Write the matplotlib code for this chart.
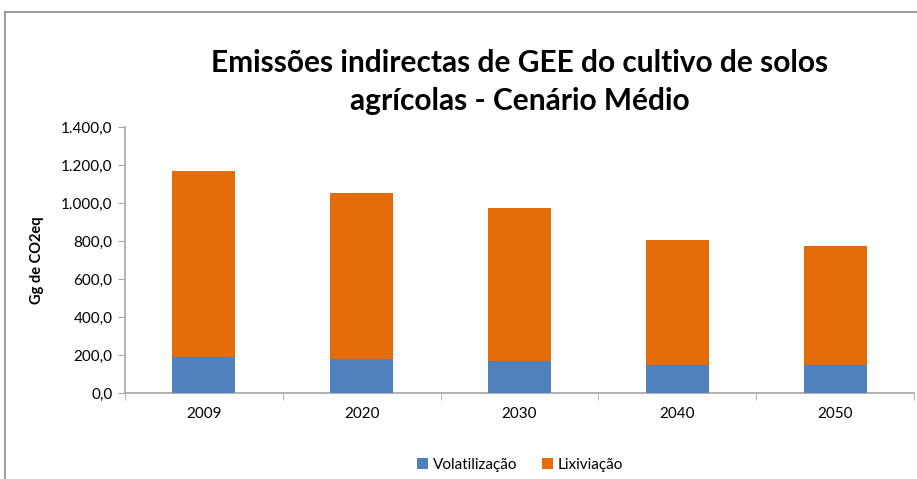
import numpy as np
import matplotlib.pyplot as plt
from matplotlib.lines import Line2D

plt.rcParams['font.family'] = ['Lato', 'DejaVu Sans']

# data
years = ['2009', '2020', '2030', '2040', '2050']
volatilizacao = [188, 177, 168, 147, 147]
lixiviacao = [980, 876, 806, 658, 627]

blue = '#4f81bd'
orange = '#e46c0a'
axcol = '#a6a6a6'

fig = plt.figure(figsize=(9.17, 4.79), dpi=100)
ax = fig.add_axes([125/917, 1-393/479, (914-125)/917, (393-127)/479])

x = np.arange(len(years))
ax.bar(x, volatilizacao, width=0.4, color=blue, label='Volatilização', zorder=3)
ax.bar(x, lixiviacao, width=0.4, bottom=volatilizacao, color=orange,
       label='Lixiviação', zorder=3)

ax.set_xlim(-0.5, len(years) - 0.5)
ax.set_ylim(0, 1400)
yt = np.arange(0, 1401, 200)
ax.set_yticks(yt)
ax.set_yticklabels([f"{v:,.1f}".replace(',', 'X').replace('.', ',').replace('X', '.') for v in yt],
                   fontsize=11)
ax.set_xticks(x)
ax.set_xticklabels(years, fontsize=11)
ax.set_xticks(np.arange(-0.5, len(years)), minor=True)
ax.tick_params(axis='x', which='major', length=0, pad=10)
ax.tick_params(axis='x', which='minor', length=5, color=axcol, direction='out')
ax.tick_params(axis='y', length=5, color=axcol, direction='out', pad=4)

for s in ['top', 'right']:
    ax.spines[s].set_visible(False)
for s in ['left', 'bottom']:
    ax.spines[s].set_color(axcol)
    ax.spines[s].set_linewidth(1.2)

ax.set_ylabel('Gg de CO2eq', fontsize=10.5, fontweight='bold', labelpad=12)

fig.text(0.567, 1 - 82/479, 'Emissões indirectas de GEE do cultivo de solos\nagrícolas - Cenário Médio',
         ha='center', va='center', fontsize=21.5, fontweight='bold', linespacing=1.45)

leg = fig.legend(loc='center', bbox_to_anchor=(0.567, 1 - 465/479), ncol=2, frameon=False,
                 fontsize=11, handlelength=0.75, handleheight=0.75, handletextpad=0.3,
                 columnspacing=1.6)

# outer chart frame
fig.add_artist(Line2D([5/917, 1], [1-12/479, 1-12/479], color='#8c8c8c', lw=1.2))
fig.add_artist(Line2D([5/917, 5/917], [0, 1-12/479], color='#8c8c8c', lw=1.2))

fig.savefig('out.png', dpi=100)
